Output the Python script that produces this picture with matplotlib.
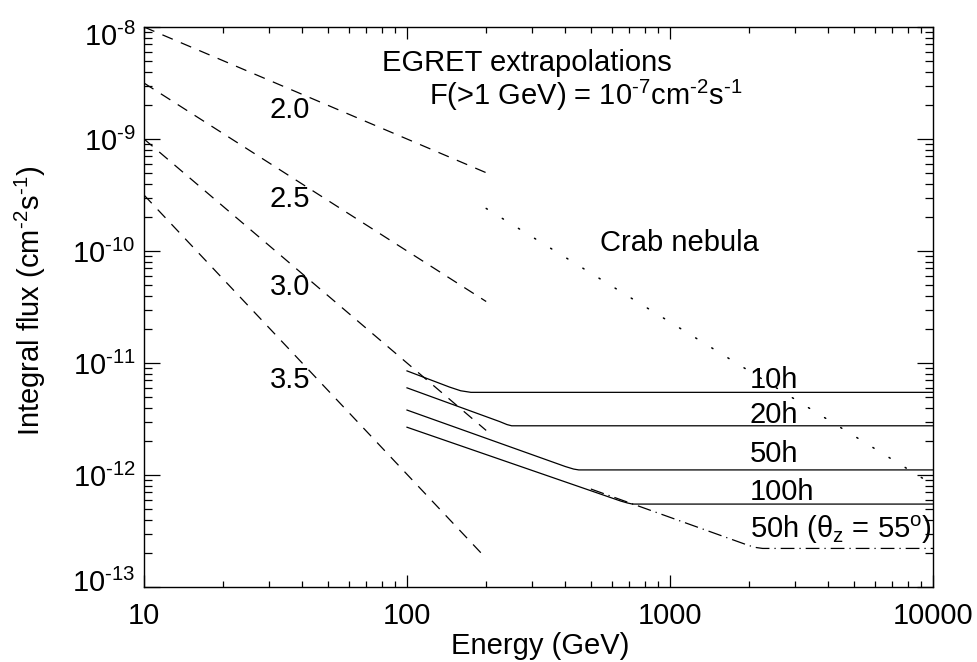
import matplotlib
matplotlib.use('Agg')
import matplotlib.pyplot as plt
from matplotlib.ticker import LogLocator, NullFormatter, FuncFormatter
from matplotlib.transforms import ScaledTranslation
import numpy as np

plt.rcParams['font.family'] = ['Liberation Sans', 'DejaVu Sans']
plt.rcParams['mathtext.fontset'] = 'custom'
plt.rcParams['mathtext.rm'] = 'Liberation Sans'
plt.rcParams['mathtext.it'] = 'Liberation Sans:italic'
plt.rcParams['mathtext.bf'] = 'Liberation Sans:bold'

FS = 21

# EGRET extrapolations, integral spectra from 10 to 200 GeV
egret_e = [10, 200]
egret_labels = ['2.0', '2.5', '3.0', '3.5']
egret_flux = {
    '2.0': [1.0e-8, 5.0e-10],
    '2.5': [3.16e-9, 3.54e-11],
    '3.0': [1.0e-9, 2.5e-12],
    '3.5': [3.16e-10, 1.8e-13],
}
egret_label_pos = {'2.0': 1.54e-9, '2.5': 2.47e-10, '3.0': 4.05e-11, '3.5': 5.98e-12}

# Crab nebula
crab_e = [200, 10000]
crab_flux = [2.4e-10, 8.2e-13]

# sensitivity curves
sens_names = ['10h', '20h', '50h', '100h']
sens_e = {
    '10h': [100, 145, 160, 175, 10000],
    '20h': [100, 225, 240, 250, 10000],
    '50h': [100, 400, 430, 450, 10000],
    '100h': [100, 650, 690, 720, 10000],
}
sens_flux = {
    '10h': [8.5e-12, 6.1e-12, 5.65e-12, 5.47e-12, 5.47e-12],
    '20h': [6.0e-12, 3.0e-12, 2.82e-12, 2.75e-12, 2.75e-12],
    '50h': [3.8e-12, 1.19e-12, 1.13e-12, 1.11e-12, 1.11e-12],
    '100h': [2.67e-12, 5.85e-13, 5.62e-13, 5.5e-13, 5.5e-13],
}
sens_label_pos = {'10h': 5.94e-12, '20h': 2.93e-12, '50h': 1.31e-12, '100h': 5.98e-13}

zen_e = [500, 2000, 2130, 2250, 10000]
zen_flux = [7.5e-13, 2.34e-13, 2.25e-13, 2.21e-13, 2.21e-13]

fig = plt.figure(figsize=(9.77, 6.62), dpi=100)
ax = fig.add_axes([144/977, 75/662, 789/977, 560/662])
ax.set_xscale('log')
ax.set_yscale('log')
ax.set_xlim(10, 10000)
ax.set_ylim(1e-13, 1e-8)

lw = 0.9
for name in egret_labels:
    ax.plot(egret_e, egret_flux[name], color='black', lw=lw, ls=(0, (9, 7)))
    ax.text(30.1, egret_label_pos[name], name, fontsize=FS, va='baseline', ha='left')

ax.plot(crab_e, crab_flux, color='black', lw=1.1, ls=(0, (0.9, 11.5)), dash_capstyle='round')
ax.text(542, 1.0e-10, 'Crab nebula', fontsize=FS, va='baseline', ha='left')

for name in sens_names:
    ax.plot(sens_e[name], sens_flux[name], color='black', lw=lw)
    ax.text(2014, sens_label_pos[name], name, fontsize=FS, va='baseline', ha='left')

ax.plot(zen_e, zen_flux, color='black', lw=lw, ls=(0, (11, 4, 1, 4)))
ax.text(2014, 2.72e-13, r'50h ($\mathrm{\theta_{z}}$ = 55$^{\mathrm{o}}$)', fontsize=FS,
        va='baseline', ha='left')

ax.text(80.3, 4.04e-9, 'EGRET extrapolations', fontsize=FS, va='baseline', ha='left')
ax.text(121, 2.01e-9, r'F(>1 GeV) = 10$^{\text{-7}}$cm$^{\text{-2}}$s$^{\text{-1}}$', fontsize=FS,
        va='baseline', ha='left')


def pow_label(v, pos):
    return r'10$^{\text{%d}}$' % int(round(np.log10(v)))


# axes styling, IDL-like inward ticks on all sides
for s in ax.spines.values():
    s.set_linewidth(1.0)
ax.yaxis.set_major_locator(LogLocator(base=10, numticks=10))
ax.yaxis.set_major_formatter(FuncFormatter(pow_label))
ax.xaxis.set_minor_locator(LogLocator(base=10, subs=range(2, 10), numticks=20))
ax.yaxis.set_minor_locator(LogLocator(base=10, subs=range(2, 10), numticks=20))
ax.xaxis.set_minor_formatter(NullFormatter())
ax.yaxis.set_minor_formatter(NullFormatter())
ax.set_xticks([10, 100, 1000, 10000])
ax.set_xticklabels(['10', '100', '1000', '10000'])
ax.tick_params(axis='both', which='both', direction='in', top=True, right=True, width=0.9)
ax.tick_params(axis='x', which='major', length=8.5, pad=11, labelsize=FS)
ax.tick_params(axis='x', which='minor', length=4)
ax.tick_params(axis='y', which='major', length=11.5, pad=6, labelsize=FS)
ax.tick_params(axis='y', which='minor', length=5.5)

fig.canvas.draw()
yticks = ax.yaxis.get_major_ticks()
ylocs = ax.yaxis.get_majorticklocs()
for t, loc in zip(yticks, ylocs):
    if abs(np.log10(loc) + 13) < 0.01:
        t.label1.set_transform(t.label1.get_transform() + ScaledTranslation(0, 0.07, fig.dpi_scale_trans))
    if abs(np.log10(loc) + 8) < 0.01:
        t.label1.set_transform(t.label1.get_transform() + ScaledTranslation(0, -0.07, fig.dpi_scale_trans))

fig.text(540/977, 8/662, 'Energy (GeV)', fontsize=FS, ha='center', va='baseline')
fig.text(30/977, 1 - 301/662, r'Integral flux (cm$^{\text{-2}}$s$^{\text{-1}}$)', fontsize=FS,
         ha='center', va='center', rotation=90)

fig.savefig('out.png', dpi=100)
